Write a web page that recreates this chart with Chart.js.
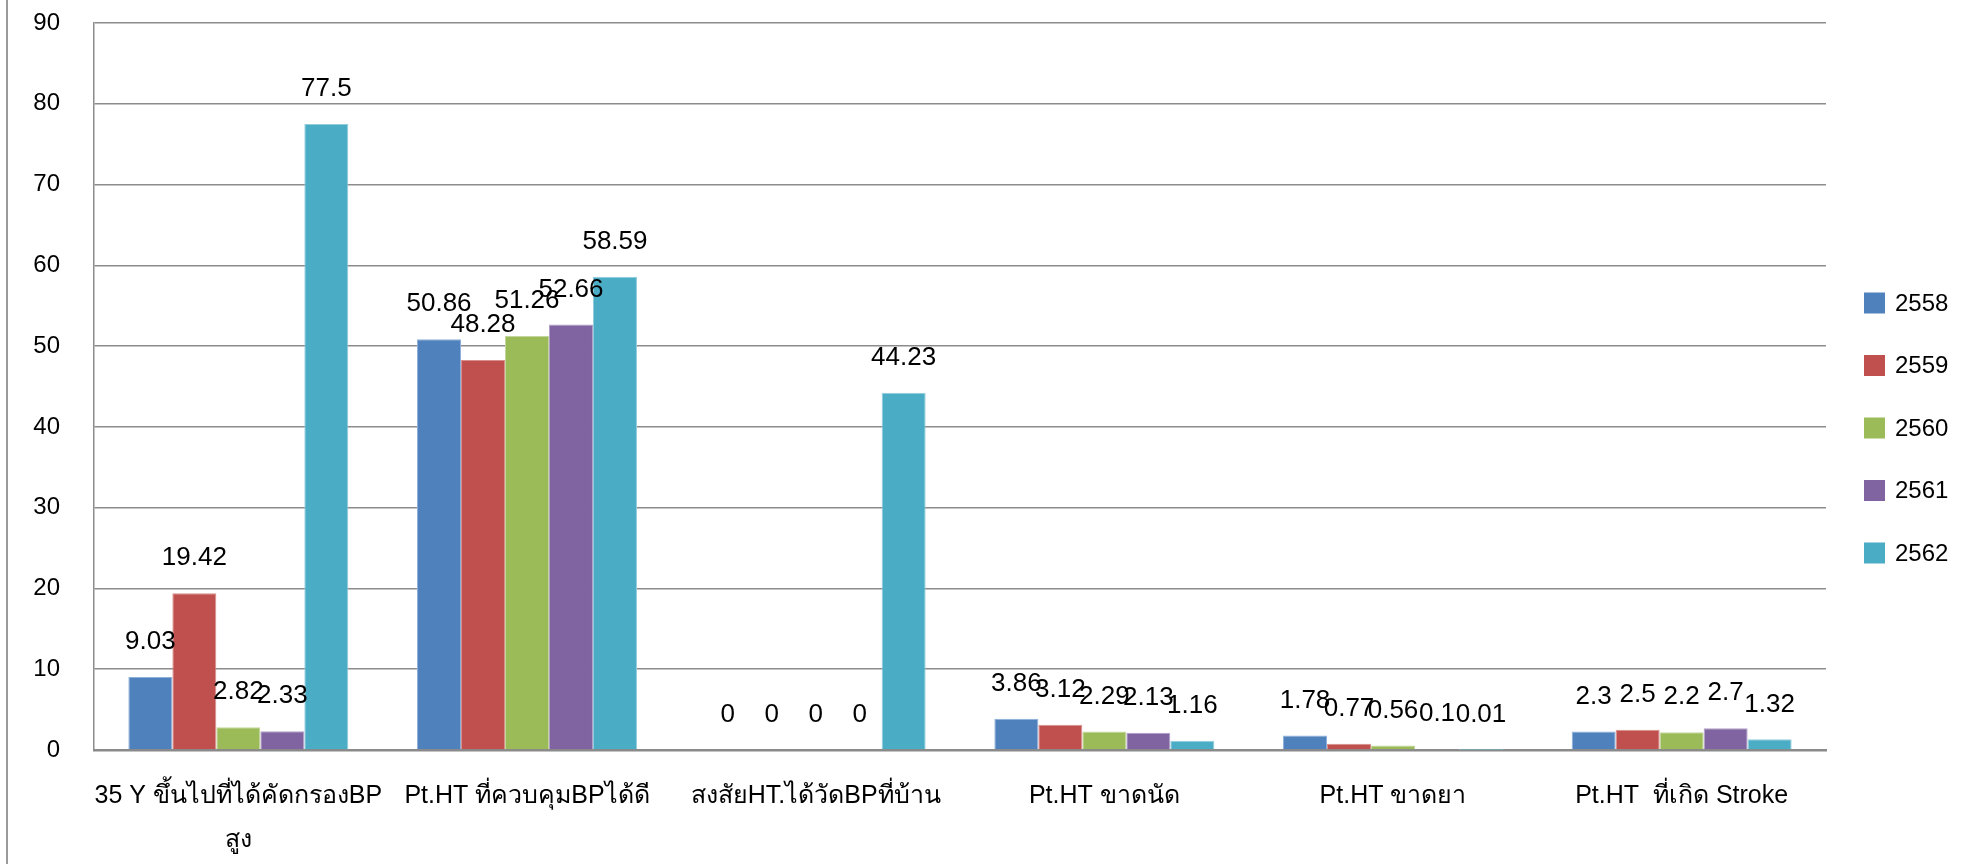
<!DOCTYPE html>
<html>
<head>
<meta charset="utf-8">
<script src="https://cdn.jsdelivr.net/npm/chart.js@4/dist/chart.umd.min.js"></script>
<style>
  html, body { margin: 0; padding: 0; background: #ffffff; }
  #wrap { width: 1972px; height: 864px; position: relative; }
</style>
</head>
<body>
<div id="wrap"><canvas id="c" width="1972" height="864"></canvas></div>
<script>
// Indicator categories (first one wraps onto two lines)
const categories = [
  ['35 Y ขึ้นไปที่ได้คัดกรองBP', 'สูง'],
  'Pt.HT ที่ควบคุมBPได้ดี',
  'สงสัยHT.ได้วัดBPที่บ้าน',
  'Pt.HT ขาดนัด',
  'Pt.HT ขาดยา',
  'Pt.HT  ที่เกิด Stroke'
];

// Fiscal years shown in the legend
const years = ['2558', '2559', '2560', '2561', '2562'];

// Percentages per year, one value per category
const y2558 = [9.03, 50.86, 0, 3.86, 1.78, 2.3];
const y2559 = [19.42, 48.28, 0, 3.12, 0.77, 2.5];
const y2560 = [2.82, 51.26, 0, 2.29, 0.56, 2.2];
const y2561 = [2.33, 52.66, 0, 2.13, 0.1, 2.7];
const y2562 = [77.5, 58.59, 44.23, 1.16, 0.01, 1.32];

const yTicks = [0, 10, 20, 30, 40, 50, 60, 70, 80, 90];

const seriesValues = [y2558, y2559, y2560, y2561, y2562];
const seriesColors = ['#4F81BD', '#C0504D', '#9BBB59', '#8064A2', '#4BACC6'];
const seriesEdges = ['#8DB0DA', '#D98E8C', '#C3D69B', '#B2A1C7', '#92CDDC'];

const FONT = '"Liberation Sans", Arial, "DejaVu Sans", sans-serif';

// Value labels above every bar
const valueLabels = {
  id: 'valueLabels',
  afterDatasetsDraw(chart) {
    const ctx = chart.ctx;
    ctx.save();
    ctx.font = '26px ' + FONT;
    ctx.fillStyle = '#000000';
    ctx.textAlign = 'center';
    ctx.textBaseline = 'middle';
    chart.data.datasets.forEach((ds, di) => {
      const meta = chart.getDatasetMeta(di);
      meta.data.forEach((bar, i) => {
        ctx.fillText(String(ds.data[i]), bar.x, bar.y - 35);
      });
    });
    ctx.restore();
  }
};

// Legend column on the right plus the thin frame line on the left edge
const sideDecor = {
  id: 'sideDecor',
  afterDraw(chart) {
    const ctx = chart.ctx;
    ctx.save();
    ctx.strokeStyle = '#9a9a9a';
    ctx.lineWidth = 2;
    ctx.beginPath();
    ctx.moveTo(7, 0);
    ctx.lineTo(7, chart.height);
    ctx.stroke();

    ctx.font = '24px ' + FONT;
    ctx.textAlign = 'left';
    ctx.textBaseline = 'middle';
    chart.data.datasets.forEach((ds, i) => {
      const cy = 303 + i * 62.5;
      ctx.fillStyle = ds.backgroundColor;
      ctx.fillRect(1864, cy - 10.5, 21, 21);
      ctx.fillStyle = '#000000';
      ctx.fillText(ds.label, 1895, cy + 1);
    });
    ctx.restore();
  }
};

const datasets = years.map((y, i) => ({
  label: y,
  data: seriesValues[i],
  backgroundColor: seriesColors[i],
  borderColor: seriesEdges[i],
  borderWidth: 1,
  barPercentage: 1.0,
  categoryPercentage: 0.762
}));

new Chart(document.getElementById('c'), {
  type: 'bar',
  data: { labels: categories, datasets },
  options: {
    responsive: false,
    animation: false,
    layout: { padding: { left: 0, right: 146, top: 23, bottom: 0 } },
    plugins: {
      legend: { display: false },
      tooltip: { enabled: false }
    },
    scales: {
      x: {
        grid: { display: false, drawTicks: false },
        border: { display: true, color: '#8a8a8a', width: 2.5 },
        ticks: {
          color: '#000000',
          font: { family: FONT, size: 25, lineHeight: 1.76 },
          padding: 24,
          maxRotation: 0,
          autoSkip: false
        },
        afterFit(scale) { scale.height = 114; scale.paddingLeft = 0; scale.paddingRight = 0; }
      },
      y: {
        min: 0,
        max: 90,
        afterBuildTicks(scale) { scale.ticks = yTicks.map(v => ({ value: v })); },
        grid: {
          drawTicks: false,
          color: '#8c8c8c',
          lineWidth: 1.5
        },
        border: { display: true, color: '#8c8c8c', width: 1.5 },
        ticks: {
          color: '#000000',
          font: { family: FONT, size: 24 },
          padding: 34
        },
        afterFit(scale) { scale.width = 94; scale.paddingTop = 0; scale.paddingBottom = 0; }
      }
    }
  },
  plugins: [valueLabels, sideDecor]
});
</script>
</body>
</html>
